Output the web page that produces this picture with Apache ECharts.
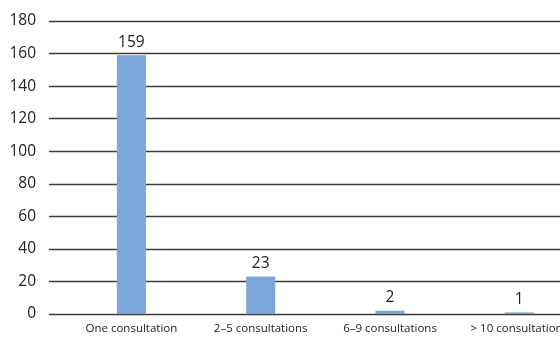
<!DOCTYPE html>
<html>
<head>
<meta charset="utf-8">
<script src="https://cdn.jsdelivr.net/npm/echarts@6/dist/echarts.min.js"></script>
<style>
  html, body { margin: 0; padding: 0; background: #fff; }
  #chart { width: 560px; height: 339px; }
</style>
</head>
<body>
<div id="chart"></div>
<script>
// 咨询次数分布
const categories = ['One consultation', '2\u20135 consultations', '6\u20139 consultations', '> 10 consultations'];
const counts = [159, 23, 2, 1];
const yTicks = { min: 0, max: 180, interval: 20 };

const chart = echarts.init(document.getElementById('chart'));
const fontFamily = '"Open Sans", "Noto Sans", sans-serif';
const lineColor = '#3c3c3c';

chart.setOption({
  animation: false,
  backgroundColor: '#fff',
  // grid 0: 只画横向网格线和 y 轴刻度 (从 x=49 开始)
  // grid 1: 柱子 (类目轴, 右侧超出画布)
  grid: [
    { left: 49, right: 0, top: 21, bottom: 25, outerBoundsMode: 'none' },
    { left: 66.75, width: 517.2, top: 21, bottom: 25, outerBoundsMode: 'none' },
  ],
  xAxis: [
    { gridIndex: 0, type: 'value', min: 0, max: 1, show: false },
    {
      gridIndex: 1,
      type: 'category',
      data: categories,
      axisLine: { show: false },
      axisTick: { show: false },
      axisLabel: { color: '#222', fontSize: 11.5, fontFamily, margin: 9 },
    },
  ],
  yAxis: [
    {
      gridIndex: 0,
      type: 'value',
      ...yTicks,
      axisLine: { show: false },
      axisTick: { show: false },
      axisLabel: { color: '#222', fontSize: 15.5, fontFamily, margin: 13 },
      splitLine: { lineStyle: { color: lineColor, width: 1.3 } },
    },
    {
      gridIndex: 1,
      type: 'value',
      ...yTicks,
      show: false,
      splitLine: { show: false },
    },
  ],
  series: [
    {
      type: 'bar',
      xAxisIndex: 1,
      yAxisIndex: 1,
      data: counts,
      barWidth: 29,
      itemStyle: { color: '#7ca6d9' },
      label: {
        show: true,
        position: 'top',
        distance: 5,
        color: '#222',
        fontSize: 15.5,
        fontFamily,
      },
    },
  ],
});
</script>
</body>
</html>
